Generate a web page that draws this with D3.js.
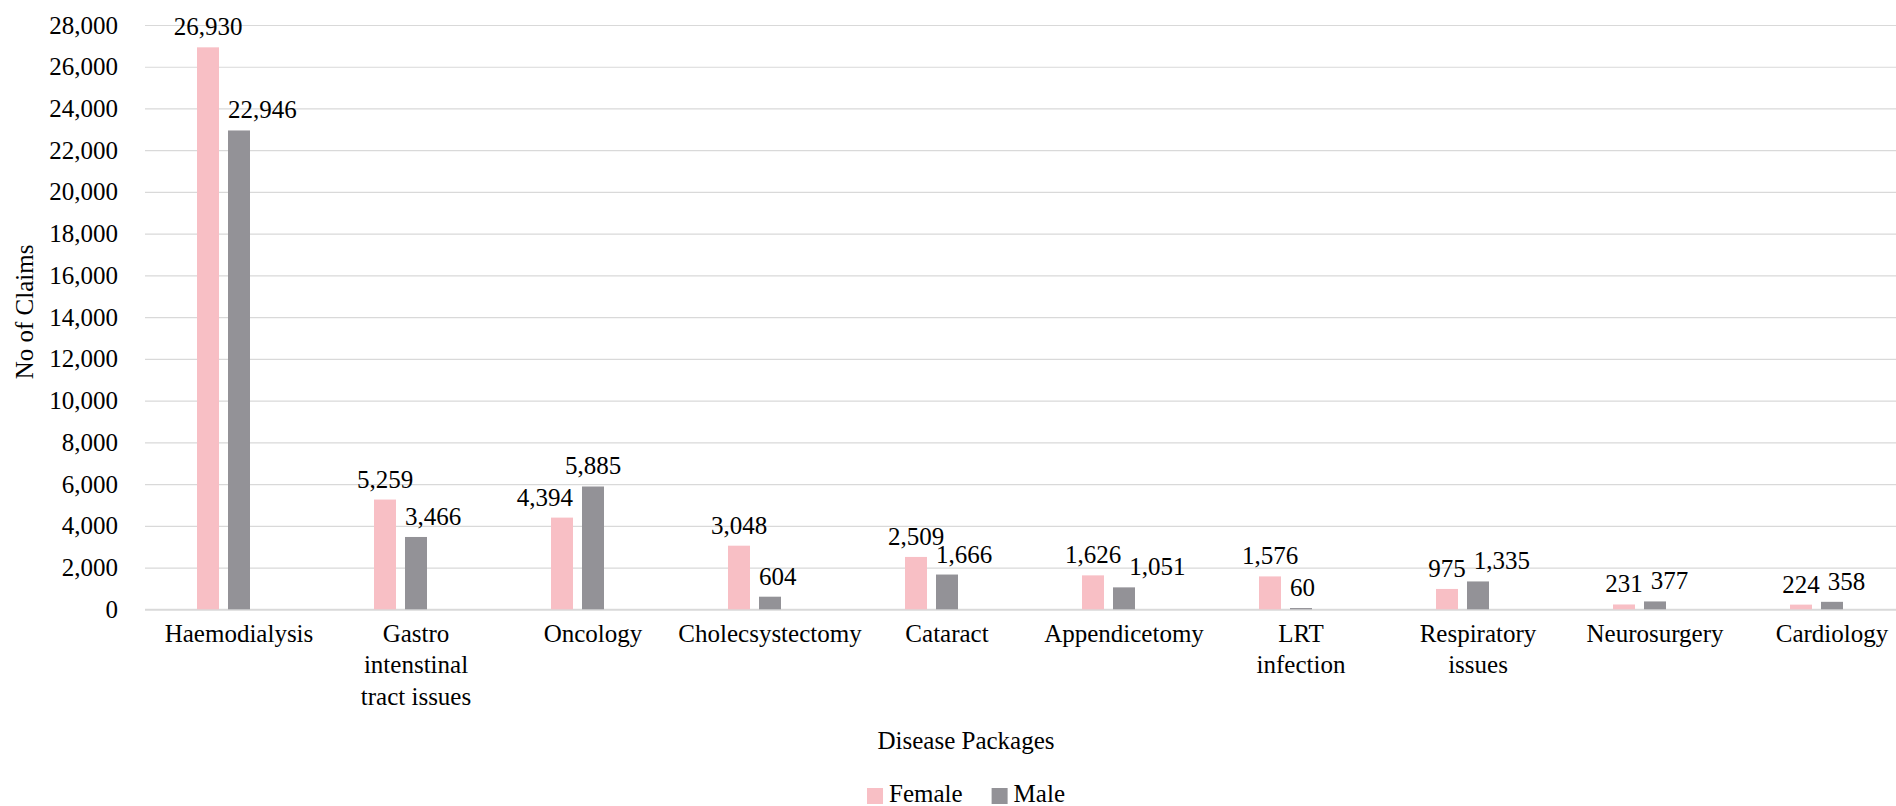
<!DOCTYPE html>
<html>
<head>
<meta charset="utf-8">
<script src="https://cdn.jsdelivr.net/npm/d3@7"></script>
<style>
  body { margin: 0; background: #fff; }
  svg text { font-family: "Liberation Serif", "Times New Roman", serif; fill: #000; }
</style>
</head>
<body>
<div id="chart"></div>
<script>
// Datos del gráfico
var categorias = ["Haemodialysis", "Gastro intenstinal tract issues", "Oncology", "Cholecsystectomy", "Cataract",
                  "Appendicetomy", "LRT infection", "Respiratory issues", "Neurosurgery", "Cardiology"];
var female = [26930, 5259, 4394, 3048, 2509, 1626, 1576, 975, 231, 224];
var male = [22946, 3466, 5885, 604, 1666, 1051, 60, 1335, 377, 358];
var series = ["Female", "Male"];
var yTicks = [0, 2000, 4000, 6000, 8000, 10000, 12000, 14000, 16000, 18000, 20000, 22000, 24000, 26000, 28000];
var tituloX = "Disease Packages";
var tituloY = "No of Claims";

var colores = {Female: "#f8bfc5", Male: "#939297"};

function grafico(container, props) {
    var W = props.width, H = props.height;
    var fs = "25px";
    var barW = 22;

    var svg = container.append("svg")
        .attr("width", W)
        .attr("height", H);

    svg.append("rect").attr("width", W).attr("height", H).attr("fill", "white");

    // Escalas
    var yScale = d3.scaleLinear().domain([0, 28000]).range([609.3, 25]);
    var xScale = d3.scaleBand().domain(categorias).range([150.5, 1920.5]);
    // hueco para 3 barras por categoria (la tercera vacía, como en el original)
    var xSerie = d3.scaleBand().domain(series).range([-46.5, 15.5]);

    // Eje Y con líneas de cuadrícula
    var yAxis = d3.axisLeft(yScale)
        .tickValues(yTicks)
        .tickFormat(d3.format(","))
        .tickSize(-(W - 145))
        .tickPadding(27);
    var yAxisG = svg.append("g")
        .attr("class", "y-axis")
        .attr("transform", "translate(145,0)")
        .call(yAxis);
    yAxisG.select(".domain").remove();
    yAxisG.selectAll(".tick line")
        .attr("stroke", "#d9d9d9")
        .attr("stroke-width", function(d) { return d === 0 ? 2 : 1.2; });
    yAxisG.selectAll(".tick text")
        .style("font-size", fs)
        .style("font-family", "Liberation Serif, serif")
        .attr("fill", "#000");

    // Datos planos para barras y etiquetas
    var datos = [];
    categorias.forEach(function(c, i) {
        datos.push({cat: c, serie: "Female", v: female[i]});
        datos.push({cat: c, serie: "Male", v: male[i]});
    });

    function barX(d) {
        return xScale(d.cat) + xScale.bandwidth() / 2 + xSerie(d.serie) + (xSerie.bandwidth() - barW) / 2;
    }

    // Barras
    svg.append("g").selectAll("rect")
        .data(datos)
        .enter().append("rect")
        .attr("x", barX)
        .attr("y", function(d) { return yScale(d.v); })
        .attr("width", barW)
        .attr("height", function(d) { return yScale(0) - yScale(d.v); })
        .attr("fill", function(d) { return colores[d.serie]; });

    // Etiquetas de valores
    var fmt = d3.format(",");
    var labels = svg.append("g").selectAll("text")
        .data(datos)
        .enter().append("text")
        .attr("text-anchor", "middle")
        .attr("x", function(d) { return barX(d) + barW / 2; })
        .attr("y", function(d) { return yScale(d.v) - 12; })
        .style("font-size", fs)
        .text(function(d) { return fmt(d.v); });

    labels.each(function(d) {
        d.w = this.getComputedTextLength();
        d.cx = barX(d) + barW / 2;
        d.base = yScale(d.v) - 12;
    });

    // Mover etiquetas que chocan con la otra barra o con la otra etiqueta
    categorias.forEach(function(c, i) {
        var f = datos[2 * i], m = datos[2 * i + 1];
        var pad = 9;
        if (m.v < f.v && m.base + 2 > yScale(f.v)) {
            var borde = barX(f) + barW + pad;
            if (m.cx - m.w / 2 < borde) m.cx = borde + m.w / 2;
        }
        if (f.v < m.v && f.base + 2 > yScale(m.v)) {
            var borde2 = barX(m) - pad;
            if (f.cx + f.w / 2 > borde2) f.cx = borde2 - f.w / 2;
        }
        var solapaY = Math.abs(f.base - m.base) < 16;
        if (solapaY && f.cx + f.w / 2 + 8 > m.cx - m.w / 2) {
            m.cx = f.cx + f.w / 2 + 8 + m.w / 2;
        }
    });
    labels.attr("x", function(d) { return d.cx; });

    // Etiquetas de categorías (con salto de línea)
    svg.append("g").selectAll("text")
        .data(categorias)
        .enter().append("text")
        .attr("text-anchor", "middle")
        .attr("y", 641.7)
        .style("font-size", fs)
        .each(function(d) {
            var t = d3.select(this);
            var x = xScale(d) + xScale.bandwidth() / 2;
            var palabras = d.split(" ");
            var linea = [];
            var ts = t.append("tspan").attr("x", x).attr("dy", 0);
            palabras.forEach(function(p) {
                linea.push(p);
                ts.text(linea.join(" "));
                if (ts.node().getComputedTextLength() > 120 && linea.length > 1) {
                    linea.pop();
                    ts.text(linea.join(" "));
                    linea = [p];
                    ts = t.append("tspan").attr("x", x).attr("dy", 31.7).text(p);
                }
            });
        });

    // Título eje X
    svg.append("text")
        .attr("x", 966)
        .attr("y", 749)
        .attr("text-anchor", "middle")
        .style("font-size", fs)
        .text(tituloX);

    // Título eje Y
    svg.append("text")
        .attr("transform", "translate(33,312) rotate(-90)")
        .attr("text-anchor", "middle")
        .style("font-size", fs)
        .text(tituloY);

    // Leyenda
    var legend = svg.append("g").attr("class", "legend");
    var items = legend.selectAll("g")
        .data(series)
        .enter().append("g");
    items.append("rect")
        .attr("width", 16)
        .attr("height", 16)
        .attr("y", 788)
        .attr("fill", function(d) { return colores[d]; });
    items.append("text")
        .attr("y", 802)
        .style("font-size", fs)
        .text(function(d) { return d; });
    var pos = 0, xs = [];
    items.each(function(d) {
        var tw = d3.select(this).select("text").node().getComputedTextLength();
        xs.push(pos);
        pos += 16 + 6 + tw + 29;
    });
    var total = pos - 29;
    var x0 = 966 - total / 2;
    items.each(function(d, i) {
        d3.select(this).select("rect").attr("x", x0 + xs[i]);
        d3.select(this).select("text").attr("x", x0 + xs[i] + 22);
    });
}

grafico(d3.select("#chart"), {width: 1896, height: 806});
</script>
</body>
</html>
